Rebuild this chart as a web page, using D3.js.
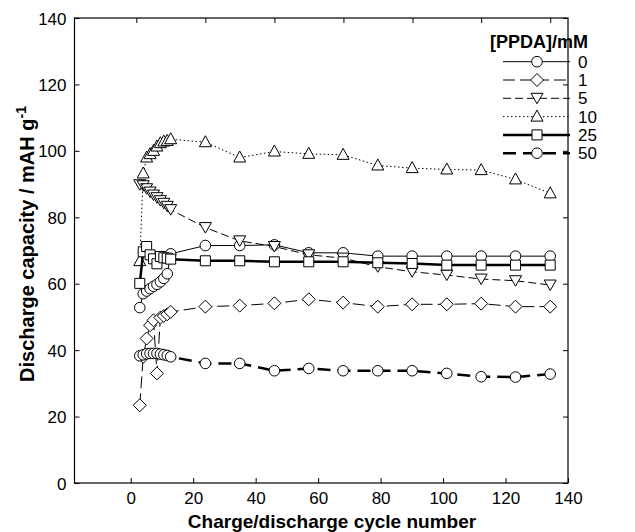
<!DOCTYPE html>
<html>
<head>
<meta charset="utf-8">
<script src="https://cdn.jsdelivr.net/npm/d3@7"></script>
<style>
  html, body { margin: 0; padding: 0; background: #fff; }
  svg { display: block; font-family: "Liberation Sans", Arial, sans-serif; }
</style>
</head>
<body>
<svg id="chart" width="635" height="532"></svg>
<script>
// ---- data (x positions as read against the bottom axis) ----
const cyclePos = [2.9, 4.0, 5.1, 6.2, 7.3, 8.4, 9.5, 10.6, 11.7, 12.8,
                  23.9, 34.9, 46.0, 57.0, 68.0, 79.1, 90.1, 101.2, 112.2, 123.2, 134.3];
const ppda0  = [52.8, 57.0, 57.8, 58.5, 59.2, 59.8, 60.6, 61.6, 63.0, 69.0,
                71.5, 71.5, 71.7, 69.3, 69.3, 68.3, 68.3, 68.3, 68.3, 68.3, 68.3];
const ppda1  = [23.4, 38.0, 43.5, 47.5, 49.0, 33.0, 49.8, 50.3, 50.8, 51.5,
                53.1, 53.4, 54.1, 55.3, 54.3, 53.1, 53.8, 53.8, 54.0, 53.1, 53.1];
const ppda5  = [89.8, 89.5, 88.6, 87.6, 86.7, 85.9, 85.0, 84.2, 83.3, 82.3,
                76.9, 72.9, 71.2, 68.7, 67.7, 65.1, 63.6, 62.6, 61.4, 60.9, 59.6];
const ppda10 = [66.8, 93.2, 98.0, 99.0, 100.0, 101.3, 102.3, 102.8, 103.0, 103.5,
                102.6, 98.0, 99.8, 99.1, 98.8, 95.6, 94.8, 94.4, 94.2, 91.4, 87.2];
const ppda25 = [60.1, 69.6, 71.2, 68.7, 67.5, 66.0, 68.2, 67.8, 67.7, 67.4,
                66.9, 66.9, 66.6, 66.6, 66.6, 66.3, 66.1, 65.6, 65.6, 65.6, 65.6];
const ppda50 = [38.3, 38.6, 38.9, 39.0, 39.0, 39.0, 38.8, 38.6, 38.4, 38.0,
                36.0, 36.0, 33.8, 34.5, 33.8, 33.8, 33.8, 33.0, 32.0, 31.9, 32.8];
const seriesNames = ["0", "1", "5", "10", "25", "50"];
const xTicks = [0, 20, 40, 60, 80, 100, 120, 140];
const yTicks = [0, 20, 40, 60, 80, 100, 120, 140];
const topTicks = [1.8, 23.9, 46.0, 68.1, 90.2, 112.2, 134.3];
const legendTitle = "[PPDA]/mM";
const xTitle = "Charge/discharge cycle number";
const yTitle = "Discharge capacity / mAH g";

// ---- styles ----
const styles = [
  { data: ppda0,  marker: "circle",  width: 1,   dash: null },
  { data: ppda1,  marker: "diamond", width: 1,   dash: "12,5" },
  { data: ppda5,  marker: "tridown", width: 1,   dash: "8,4" },
  { data: ppda10, marker: "triup",   width: 1,   dash: "1.5,2.5" },
  { data: ppda25, marker: "square",  width: 2.5, dash: null },
  { data: ppda50, marker: "circle",  width: 2.5, dash: "13,7" }
];

const svg = d3.select("#chart");
const L = 74.5, R = 568, T = 18, B = 483;
const x = d3.scaleLinear().domain([-18, 140]).range([L, R]);
const y = d3.scaleLinear().domain([0, 140]).range([B, T]);

function markerPath(type) {
  switch (type) {
    case "circle":  return d3.symbol(d3.symbolCircle, 88)();
    case "square":  return "M-5,-5H5V5H-5Z";
    case "diamond": return "M0,-6.5L6.5,0L0,6.5L-6.5,0Z";
    case "triup":   return "M0,-6.5L6,4.5L-6,4.5Z";
    case "tridown": return "M0,5.5L-6,-5L6,-5Z";
  }
}

// frame
svg.append("rect").attr("x", L).attr("y", T).attr("width", R - L).attr("height", B - T)
  .attr("fill", "none").attr("stroke", "#000").attr("stroke-width", 1.2);

// axes
const fontSize = 17;
const gx = svg.append("g").attr("transform", `translate(0,${B})`)
  .call(d3.axisBottom(x).tickValues(xTicks).tickSizeInner(-5).tickSizeOuter(0).tickPadding(9));
const gy = svg.append("g").attr("transform", `translate(${L},0)`)
  .call(d3.axisLeft(y).tickValues(yTicks).tickSizeInner(-5).tickSizeOuter(0).tickPadding(8));
const gr = svg.append("g").attr("transform", `translate(${R},0)`)
  .call(d3.axisRight(y).tickValues(yTicks).tickSizeInner(-5).tickSizeOuter(0).tickFormat(""));
const gt = svg.append("g").attr("transform", `translate(0,${T})`)
  .call(d3.axisTop(x).tickValues(topTicks).tickSizeInner(-5).tickSizeOuter(0).tickFormat(""));
[gx, gy, gr, gt].forEach(g => {
  g.select(".domain").remove();
  g.selectAll("line").attr("stroke", "#000").attr("stroke-width", 1);
  g.selectAll("text").attr("font-size", fontSize).attr("fill", "#000")
    .attr("font-family", "Liberation Sans, Arial, sans-serif");
});
gy.selectAll("text").attr("dy", "0.36em");

// axis titles
svg.append("text").attr("x", 332).attr("y", 528).attr("text-anchor", "middle")
  .attr("font-size", 19).attr("font-weight", "bold").text(xTitle);
const yt = svg.append("text").attr("transform", `translate(34,244) rotate(-90)`)
  .attr("text-anchor", "middle").attr("font-size", 20).attr("font-weight", "bold");
yt.append("tspan").text(yTitle);
yt.append("tspan").attr("font-size", 14).attr("dy", -8).text("-1");

// series
const line = d3.line().x((d, i) => x(cyclePos[i])).y(d => y(d));
styles.forEach(s => {
  svg.append("path").datum(s.data).attr("d", line)
    .attr("fill", "none").attr("stroke", "#000").attr("stroke-width", s.width)
    .attr("stroke-dasharray", s.dash);
  svg.append("g").selectAll("path").data(s.data).join("path")
    .attr("d", markerPath(s.marker))
    .attr("transform", (d, i) => `translate(${x(cyclePos[i])},${y(d)})`)
    .attr("fill", "#fff").attr("stroke", "#000").attr("stroke-width", 1);
});

// legend
svg.append("text").attr("x", 490).attr("y", 48).attr("font-size", 18)
  .attr("font-weight", "bold").text(legendTitle);
styles.forEach((s, i) => {
  const ly = 61.7 + i * 18.3;
  svg.append("line").attr("x1", 503).attr("x2", 570).attr("y1", ly).attr("y2", ly)
    .attr("stroke", "#000").attr("stroke-width", s.width).attr("stroke-dasharray", s.dash);
  svg.append("path").attr("d", markerPath(s.marker))
    .attr("transform", `translate(537,${ly})`)
    .attr("fill", "#fff").attr("stroke", "#000").attr("stroke-width", 1);
  svg.append("text").attr("x", 578).attr("y", ly + 6).attr("font-size", 17)
    .text(seriesNames[i]);
});
</script>
</body>
</html>
